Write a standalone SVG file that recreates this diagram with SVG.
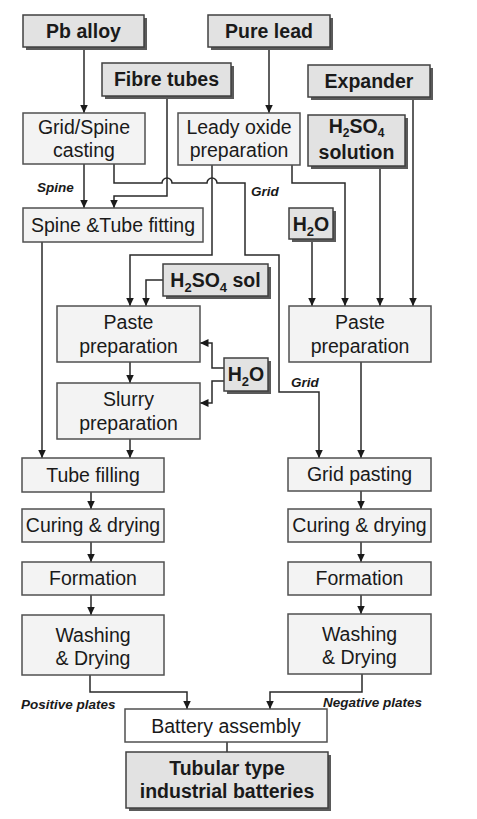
<svg xmlns="http://www.w3.org/2000/svg" width="477" height="819" viewBox="0 0 477 819">
<style>
text{font-family:"Liberation Sans",Arial,sans-serif;font-size:19.5px;fill:#1a1a1a;text-anchor:middle}
.b{font-weight:bold}
.lbl{font-size:13.5px;font-weight:bold;font-style:italic;text-anchor:start}
.proc{fill:#f3f3f3;stroke:#505050;stroke-width:1.5}
.white{fill:#ffffff;stroke:#505050;stroke-width:1.5}
.inp{fill:#e2e2e2;stroke:#404040;stroke-width:1.5}
.sh{fill:#5a5a5a}
.c{fill:none;stroke:#2a2a2a;stroke-width:1.5}
.a{marker-end:url(#ar)}
</style>
<defs>
<marker id="ar" markerUnits="userSpaceOnUse" markerWidth="9" markerHeight="9" refX="8.5" refY="4" orient="auto">
<path d="M0,0 L8.5,4 L0,8 z" fill="#1a1a1a"/>
</marker>
</defs>
<rect width="477" height="819" fill="#ffffff"/>

<g id="connectors">
<path class="c a" d="M84,47 V113"/>
<path class="c a" d="M269,47 V113"/>
<path class="c a" d="M167,96 V196 H114 V208"/>
<path class="c a" d="M84,164 V208"/>
<path class="c a" d="M114,164 V183 H162 a5,5 0 0 1 10,0 H207 a5,5 0 0 1 10,0 H245 V255 H279 V392 H319 V458"/>
<path class="c a" d="M212,165 V255 H130 V306"/>
<path class="c a" d="M292,165 V183 H345 V306"/>
<path class="c a" d="M380,166 V306"/>
<path class="c a" d="M413,97 V306"/>
<path class="c a" d="M312,239 V306"/>
<path class="c a" d="M163,280 H146 V306"/>
<path class="c a" d="M224,368 H212 V343 H200"/>
<path class="c a" d="M224,381 H212 V403 H200"/>
<path class="c a" d="M130,362 V383"/>
<path class="c a" d="M130,439 V458"/>
<path class="c a" d="M42,242 V458"/>
<path class="c a" d="M91,492 V509"/>
<path class="c a" d="M91,542 V562"/>
<path class="c a" d="M91,595 V615"/>
<path class="c a" d="M361,362 V458"/>
<path class="c a" d="M361,491 V509"/>
<path class="c a" d="M361,542 V562"/>
<path class="c a" d="M361,595 V614"/>
<path class="c a" d="M90,675 V692 H187 V709"/>
<path class="c a" d="M362,674 V692 H270 V709"/>
<path class="c" d="M227,742 V752"/>
<text class="lbl" x="37" y="192">Spine</text>
<text class="lbl" x="251" y="196">Grid</text>
<text class="lbl" x="291" y="387">Grid</text>
<text class="lbl" x="21" y="709">Positive plates</text>
<text class="lbl" x="323" y="707">Negative plates</text>
</g>

<g id="pb-alloy">
<rect class="sh" x="26" y="18" width="121" height="32"/>
<rect class="inp" x="23" y="15" width="121" height="32"/>
<text class="b" x="83.5" y="38">Pb alloy</text>
</g>
<g id="pure-lead">
<rect class="sh" x="211" y="18" width="122" height="32"/>
<rect class="inp" x="208" y="15" width="122" height="32"/>
<text class="b" x="269" y="38">Pure lead</text>
</g>
<g id="fibre-tubes">
<rect class="sh" x="105" y="66" width="129" height="33"/>
<rect class="inp" x="102" y="63" width="129" height="33"/>
<text class="b" x="166.5" y="86">Fibre tubes</text>
</g>
<g id="expander">
<rect class="sh" x="311" y="68" width="122" height="32"/>
<rect class="inp" x="308" y="65" width="122" height="32"/>
<text class="b" x="369" y="88">Expander</text>
</g>
<g id="h2so4-solution">
<rect class="sh" x="311" y="118" width="97" height="51"/>
<rect class="inp" x="308" y="115" width="97" height="51"/>
<text class="b" x="356.5" y="133">H<tspan font-size="12" dy="4">2</tspan><tspan dy="-4">SO</tspan><tspan font-size="12" dy="4">4</tspan></text>
<text class="b" x="356.5" y="159">solution</text>
</g>
<g id="h2o-right">
<rect class="sh" x="292" y="211" width="44" height="31"/>
<rect class="inp" x="289" y="208" width="44" height="31"/>
<text class="b" x="311" y="231">H<tspan font-size="13" dy="5">2</tspan><tspan dy="-5">O</tspan></text>
</g>
<g id="h2so4-sol">
<rect class="sh" x="166" y="267" width="105" height="32"/>
<rect class="inp" x="163" y="264" width="105" height="32"/>
<text class="b" x="215.5" y="287">H<tspan font-size="13" dy="5">2</tspan><tspan dy="-5">SO</tspan><tspan font-size="13" dy="5">4</tspan><tspan dy="-5"> sol</tspan></text>
</g>
<g id="h2o-left">
<rect class="sh" x="227" y="361" width="44" height="33"/>
<rect class="inp" x="224" y="358" width="44" height="33"/>
<text class="b" x="246" y="381">H<tspan font-size="13" dy="5">2</tspan><tspan dy="-5">O</tspan></text>
</g>

<g id="grid-spine-casting">
<rect class="proc" x="23" y="113" width="122" height="51"/>
<text x="84" y="134">Grid/Spine</text>
<text x="84" y="157">casting</text>
</g>
<g id="leady-oxide">
<rect class="proc" x="178" y="113" width="122" height="52"/>
<text x="239" y="134">Leady oxide</text>
<text x="239" y="157">preparation</text>
</g>
<g id="spine-tube-fitting">
<rect class="proc" x="23" y="208" width="180" height="34"/>
<text x="113" y="232">Spine &amp;Tube fitting</text>
</g>
<g id="paste-prep-left">
<rect class="proc" x="57" y="306" width="143" height="56"/>
<text x="128.5" y="329">Paste</text>
<text x="128.5" y="353">preparation</text>
</g>
<g id="slurry-prep">
<rect class="proc" x="57" y="383" width="143" height="56"/>
<text x="128.5" y="406">Slurry</text>
<text x="128.5" y="430">preparation</text>
</g>
<g id="paste-prep-right">
<rect class="proc" x="289" y="306" width="142" height="56"/>
<text x="360" y="329">Paste</text>
<text x="360" y="353">preparation</text>
</g>
<g id="tube-filling">
<rect class="proc" x="22" y="458" width="142" height="34"/>
<text x="93" y="482">Tube filling</text>
</g>
<g id="curing-left">
<rect class="proc" x="22" y="509" width="142" height="33"/>
<text x="93" y="532">Curing &amp; drying</text>
</g>
<g id="formation-left">
<rect class="proc" x="22" y="562" width="142" height="33"/>
<text x="93" y="585">Formation</text>
</g>
<g id="washing-left">
<rect class="proc" x="22" y="615" width="142" height="60"/>
<text x="93" y="642">Washing</text>
<text x="93" y="665">&amp; Drying</text>
</g>
<g id="grid-pasting">
<rect class="proc" x="288" y="458" width="143" height="33"/>
<text x="359.5" y="481">Grid pasting</text>
</g>
<g id="curing-right">
<rect class="proc" x="288" y="509" width="143" height="33"/>
<text x="359.5" y="532">Curing &amp; drying</text>
</g>
<g id="formation-right">
<rect class="proc" x="288" y="562" width="143" height="33"/>
<text x="359.5" y="585">Formation</text>
</g>
<g id="washing-right">
<rect class="proc" x="288" y="614" width="143" height="60"/>
<text x="359.5" y="641">Washing</text>
<text x="359.5" y="664">&amp; Drying</text>
</g>
<g id="battery-assembly">
<rect class="white" x="125" y="709" width="202" height="33"/>
<text x="226" y="733">Battery assembly</text>
</g>
<g id="tubular-batteries">
<rect class="sh" x="129" y="755" width="202" height="56"/>
<rect class="inp" x="126" y="752" width="202" height="56"/>
<text class="b" x="227" y="775">Tubular type</text>
<text class="b" x="227" y="798">industrial batteries</text>
</g>
</svg>
